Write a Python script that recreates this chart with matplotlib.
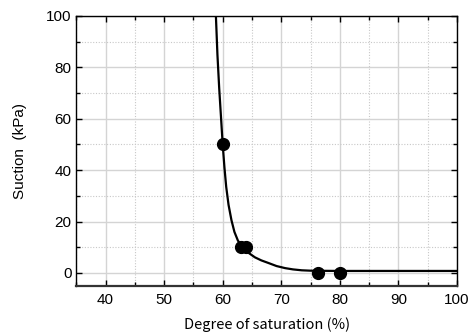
import matplotlib
matplotlib.use("Agg")
import matplotlib.pyplot as plt
from matplotlib.ticker import MultipleLocator

# Measured points (degree of saturation %, suction kPa)
sr_meas = [60.0, 63.2, 63.9, 76.3, 80.1]
suction_meas = [50.0, 10.0, 10.0, 0.0, 0.0]

# Fitted retention curve, read point by point
sr_fit = [58.84, 59.1, 59.4, 59.7, 60.0, 60.3, 60.6, 61.0, 61.5, 62.0,
          62.6, 63.5, 64.5, 65.5, 66.6, 67.8, 69.2, 70.65, 72.0, 73.5,
          75.0, 77.0, 80.0, 90.0, 100.0]
suction_fit = [100.0, 85.0, 72.0, 61.0, 50.0, 41.0, 33.5, 26.5, 20.5, 16.0,
               12.6, 9.8, 7.7, 6.1, 4.9, 3.9, 2.7, 1.9, 1.4, 1.05,
               0.9, 0.85, 0.8, 0.8, 0.8]

plt.rcParams["font.family"] = ["Liberation Sans", "DejaVu Sans"]

fig = plt.figure(figsize=(4.75, 3.32), dpi=100)
ax = fig.add_axes([0.1606, 0.139, 0.8014, 0.813])

ax.plot(sr_fit, suction_fit, "-", color="black", lw=1.6, zorder=3)
ax.plot(sr_meas, suction_meas, "o", color="black", ms=8.5, zorder=4)

ax.set_xlim(35, 100)
ax.set_ylim(-5, 100)
ax.xaxis.set_major_locator(MultipleLocator(10))
ax.xaxis.set_minor_locator(MultipleLocator(5))
ax.yaxis.set_major_locator(MultipleLocator(20))
ax.yaxis.set_minor_locator(MultipleLocator(10))

ax.grid(True, which="major", color="#d4d4d4", lw=1.0, ls="-", zorder=0)
ax.grid(True, which="minor", color="#c8c8c8", lw=0.8, ls=(0, (1, 1.5)), zorder=0)
ax.set_axisbelow(True)

ax.tick_params(which="both", direction="in", top=True, right=True,
               labelsize=11, colors="black")
ax.tick_params(axis="x", pad=5)
ax.tick_params(which="major", length=4, width=1)
ax.tick_params(which="minor", length=3, width=1)
for sp in ax.spines.values():
    sp.set_linewidth(1.0)
    sp.set_color("black")
ax.spines["bottom"].set_linewidth(1.6)
ax.spines["bottom"].set_color("#333333")

ax.set_xlabel("Degree of saturation (%)", fontsize=10.5,
              family=["Noto Sans CJK JP", "DejaVu Sans"])
ax.set_ylabel("Suction  (kPa)", fontsize=11)
ax.xaxis.set_label_coords(0.5, -0.144)
ax.yaxis.set_label_coords(-0.148, 0.5)
ax.xaxis.label.set_va("center")
ax.yaxis.label.set_va("center")

fig.savefig("out.png", dpi=100)
